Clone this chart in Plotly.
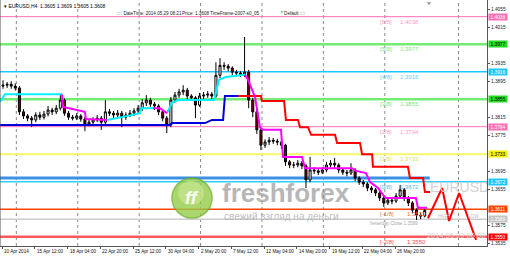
import plotly.graph_objects as go

# ---------------- data ----------------
symbol = "EURUSD,H4"
header_quote = "1.3605 1.3609 1.3605 1.3608"
header_datetime = "2014.05.29 08:21"
header_price = "1.3608"

# candles (each candle = two H4 bars), bar 0 = 10 Apr 2014 20:00
closes = [1.3886, 1.3888, 1.3884, 1.3880, 1.3827, 1.3818, 1.3813, 1.3809, 1.3820, 1.3815,
          1.3822, 1.3831, 1.3827, 1.3835, 1.3853, 1.3824, 1.3815, 1.3813, 1.3818, 1.3811,
          1.3800, 1.3804, 1.3809, 1.3813, 1.3804, 1.3827, 1.3824, 1.3820, 1.3824, 1.3815,
          1.3820, 1.3824, 1.3829, 1.3835, 1.3847, 1.3853, 1.3844, 1.3840, 1.3827, 1.3813,
          1.3798, 1.3853, 1.3864, 1.3871, 1.3875, 1.3862, 1.3858, 1.3842, 1.3862, 1.3864,
          1.3866, 1.3862, 1.3908, 1.3930, 1.3928, 1.3924, 1.3915, 1.3913, 1.3910, 1.3915,
          1.3853, 1.3827, 1.3787, 1.3753, 1.3760, 1.3764, 1.3762, 1.3760, 1.3753, 1.3716,
          1.3709, 1.3709, 1.3713, 1.3707, 1.3676, 1.3698, 1.3696, 1.3693, 1.3698, 1.3709,
          1.3713, 1.3709, 1.3698, 1.3693, 1.3691, 1.3698, 1.3680, 1.3671, 1.3667, 1.3658,
          1.3654, 1.3647, 1.3636, 1.3625, 1.3631, 1.3629, 1.3640, 1.3654, 1.3636, 1.3625,
          1.3609, 1.3598, 1.3596, 1.3608]
highs = [1.3897, 1.3893, 1.3895, 1.3890, 1.3884, 1.3833, 1.3822, 1.3818, 1.3826, 1.3827,
         1.3829, 1.3840, 1.3836, 1.3842, 1.3864, 1.3857, 1.3829, 1.3820, 1.3824, 1.3822,
         1.3815, 1.3811, 1.3815, 1.3820, 1.3818, 1.3853, 1.3833, 1.3829, 1.3831, 1.3829,
         1.3826, 1.3831, 1.3835, 1.3842, 1.3855, 1.3864, 1.3858, 1.3849, 1.3844, 1.3831,
         1.3818, 1.3860, 1.3871, 1.3878, 1.3886, 1.3880, 1.3866, 1.3862, 1.3869, 1.3871,
         1.3873, 1.3871, 1.3937, 1.3946, 1.3937, 1.3933, 1.3928, 1.3920, 1.3917, 1.3993,
         1.3920, 1.3858, 1.3831, 1.3791, 1.3766, 1.3771, 1.3769, 1.3767, 1.3764, 1.3756,
         1.3720, 1.3716, 1.3720, 1.3718, 1.3711, 1.3727, 1.3704, 1.3700, 1.3704, 1.3716,
         1.3720, 1.3725, 1.3713, 1.3702, 1.3698, 1.3713, 1.3702, 1.3684, 1.3676, 1.3671,
         1.3662, 1.3658, 1.3651, 1.3640, 1.3638, 1.3636, 1.3647, 1.3665, 1.3658, 1.3640,
         1.3629, 1.3613, 1.3604, 1.3611]
lows = [1.3878, 1.3880, 1.3878, 1.3874, 1.3820, 1.3811, 1.3806, 1.3793, 1.3804, 1.3809,
        1.3810, 1.3817, 1.3820, 1.3822, 1.3830, 1.3818, 1.3809, 1.3808, 1.3809, 1.3805,
        1.3784, 1.3795, 1.3800, 1.3804, 1.3787, 1.3800, 1.3818, 1.3813, 1.3815, 1.3793,
        1.3809, 1.3815, 1.3818, 1.3822, 1.3829, 1.3840, 1.3838, 1.3831, 1.3820, 1.3806,
        1.3780, 1.3793, 1.3847, 1.3858, 1.3864, 1.3855, 1.3851, 1.3813, 1.3838, 1.3855,
        1.3858, 1.3853, 1.3858, 1.3902, 1.3920, 1.3917, 1.3908, 1.3906, 1.3904, 1.3904,
        1.3835, 1.3815, 1.3778, 1.3742, 1.3747, 1.3753, 1.3756, 1.3753, 1.3745, 1.3707,
        1.3702, 1.3702, 1.3704, 1.3700, 1.3658, 1.3671, 1.3689, 1.3687, 1.3689, 1.3693,
        1.3704, 1.3702, 1.3691, 1.3687, 1.3684, 1.3687, 1.3673, 1.3665, 1.3660, 1.3651,
        1.3647, 1.3640, 1.3629, 1.3616, 1.3620, 1.3622, 1.3625, 1.3636, 1.3629, 1.3618,
        1.3602, 1.3587, 1.3589, 1.3593]
first_open = 1.3884
candle_bar = [2 * k + 0.5 for k in range(len(closes))]
opens = [first_open] + closes[:-1]

tick_bars = [0, 16, 32, 48, 64, 80, 96, 112, 128, 144, 160, 176, 192]
tick_labels = ["10 Apr 2014", "15 Apr 12:00", "18 Apr 04:00", "22 Apr 20:00", "25 Apr 12:00",
               "30 Apr 04:00", "2 May 20:00", "7 May 12:00", "12 May 04:00", "14 May 20:00",
               "19 May 12:00", "22 May 04:00", "26 May 20:00"]
week_bars = [7, 37, 67, 97, 127, 157, 187, 223]

murrey_names = ["[6/8]", "[5/8]", "[4/8]", "[3/8]", "[2/8]", "[1/8]", "[0/8]", "[-1/8]", "[-2/8]"]
murrey_levels = [1.4038, 1.3977, 1.3916, 1.3855, 1.3794, 1.3733, 1.3672, 1.3611, 1.3550]

yesterday_close = 1.3589
pivot_level = 1.3680
pivot_end_bar = 209

# trailing indicator (up = cyan, down = magenta)
up_bar = [-1.0, 1.5, 29.3, None, 51.3, 56.2, 61.6, 67.4, 67.9, 73.8, None,
          80.6, 83.0, 86.0, 103.6, 106.0, 109.4, 118.7]
up_price = [1.3849, 1.3866, 1.3866, None, 1.3809, 1.3813, 1.3818, 1.3824, 1.3835, 1.3835, None,
            1.3824, 1.3847, 1.3853, 1.3853, 1.3898, 1.3904, 1.3909]
dn_bar = [29.3, 29.8, 36.6, 40.5, 41.0, 51.3, None, 73.8, 77.2, 80.6, None,
          118.7, 120.2, 123.6, 126.0, 127.5, 136.3, 137.3, 146.6, 148.0, 171.0, 172.9,
          177.8, 179.8, 183.7, 186.6, 187.6, 202.2, 203.2, 207.6]
dn_price = [1.3866, 1.3838, 1.3831, 1.3827, 1.3811, 1.3809, None, 1.3835, 1.3835, 1.3824, None,
            1.3909, 1.3898, 1.3860, 1.3793, 1.3787, 1.3787, 1.3727, 1.3727, 1.3702, 1.3702, 1.3696,
            1.3691, 1.3671, 1.3658, 1.3640, 1.3636, 1.3636, 1.3614, 1.3614]
sup_bar = [-1.0, 82.1, 83.0, 99.2, 102.6, 108.0, 108.9, 115.3]
sup_price = [1.3798, 1.3798, 1.3802, 1.3802, 1.3809, 1.3809, 1.3862, 1.3862]
res_bar = [115.3, 126.5, 127.0, 137.8, 138.7, 144.6, 145.6, 149.5, 151.0, 162.7, 163.7,
           174.9, 175.9, 180.8, 181.2, 198.3, 199.3, 205.7, 206.6, 209.1]
res_price = [1.3862, 1.3862, 1.3851, 1.3851, 1.3809, 1.3809, 1.3793, 1.3793, 1.3776, 1.3776, 1.3758,
             1.3758, 1.3733, 1.3733, 1.3705, 1.3705, 1.3680, 1.3680, 1.3649, 1.3649]
proj_bar = [208.1, 215.0, 218.4, 223.3, 231.6]
proj_price = [1.3591, 1.3658, 1.3585, 1.3647, 1.3543]

axis_ticks = [1.4055, 1.4015, 1.3935, 1.3895, 1.3815, 1.3775, 1.3695, 1.3655, 1.3575, 1.3535]

# ---------------- styles ----------------
FONT = "Liberation Sans, Arial, sans-serif"
PLOT_W, PLOT_H = 487, 246
murrey_line_colors = ["#ff6eb4", "#74ec74", "#1ec8ff", "#74ec74", "#ff6eb4", "#f6f66a",
                      "#33ccff", "#ff4500", "#ff5a5a"]
murrey_line_widths = [1, 2.5, 1.5, 2.5, 1, 2, 1.5, 1.5, 2.5]
murrey_text_colors = ["#ff9ccc", "#7be87b", "#66ccff", "#7be87b", "#ff9ccc", "#e3e34a",
                      "#55bbee", "#ff7040", "#ff5050"]
murrey_box_colors = ["#ff6eb4", "#1fdc1f", "#1ec8ff", "#1fdc1f", "#ff6eb4", "#f0f000",
                     "#1ec8ff", "#ff4500", "#ff0000"]
murrey_box_text = ["white", "black", "white", "black", "white", "black", "white", "white", "white"]


def px(xp):
    return xp / PLOT_W


def py(yp):
    return 1 - yp / PLOT_H


fig = go.Figure()

fig.add_trace(go.Candlestick(
    x=candle_bar, open=opens, high=highs, low=lows, close=closes,
    increasing=dict(line=dict(color="black", width=1), fillcolor="white"),
    decreasing=dict(line=dict(color="black", width=1), fillcolor="#7a0000"),
    whiskerwidth=0, showlegend=False, hoverinfo="skip"))

fig.add_trace(go.Scatter(x=sup_bar, y=sup_price, mode="lines",
                         line=dict(color="#0000dd", width=2), showlegend=False))
fig.add_trace(go.Scatter(x=res_bar, y=res_price, mode="lines",
                         line=dict(color="#ff0000", width=2), showlegend=False))
fig.add_trace(go.Scatter(x=up_bar, y=up_price, mode="lines", connectgaps=False,
                         line=dict(color="#00f0ff", width=2), showlegend=False))
fig.add_trace(go.Scatter(x=dn_bar, y=dn_price, mode="lines", connectgaps=False,
                         line=dict(color="#ff00ff", width=2), showlegend=False))
fig.add_trace(go.Scatter(x=proj_bar, y=proj_price, mode="lines",
                         line=dict(color="#ff0000", width=2), showlegend=False, cliponaxis=True))

# clipped texts on the right part of the chart
fig.add_trace(go.Scatter(
    x=[209.1, 213.0, 227.6, 207.6], y=[1.3658, 1.3594, 1.3594, 1.3552], mode="text",
    text=["EURUSD", "HIGH", "LOW", "2014.05.29 00:00"], textposition="middle right",
    textfont=dict(family=FONT, size=[14, 4.8, 4.8, 7.5],
                  color=["#d2d2d2", "#c0c0c0", "#c0c0c0", "#d4d4d4"]),
    cliponaxis=True, showlegend=False, hoverinfo="skip"))

# top shift marker
fig.add_trace(go.Scatter(x=[208.6], y=[1.4068], mode="markers",
                         marker=dict(symbol="triangle-down", size=4, color="#9a9a9a"),
                         showlegend=False, hoverinfo="skip"))

shapes = []
for wb in week_bars:
    shapes.append(dict(type="line", xref="x", yref="paper", x0=wb, x1=wb, y0=0, y1=1,
                       line=dict(color="#8a8a8a", width=1, dash="dot"), layer="below"))
for lvl, c, w in zip(murrey_levels, murrey_line_colors, murrey_line_widths):
    shapes.append(dict(type="line", xref="paper", yref="y", x0=0, x1=1, y0=lvl, y1=lvl,
                       line=dict(color=c, width=w), layer="below"))
shapes.append(dict(type="line", xref="paper", yref="y", x0=0, x1=1, y0=yesterday_close,
                   y1=yesterday_close, line=dict(color="#cccccc", width=1.5), layer="below"))
shapes.append(dict(type="line", xref="x", yref="y", x0=-1, x1=pivot_end_bar, y0=pivot_level,
                   y1=pivot_level, line=dict(color="#3d8fe8", width=3), layer="below"))
# logo circle
shapes.append(dict(type="circle", xref="paper", yref="paper", x0=px(172), x1=px(212),
                   y0=py(218), y1=py(178), fillcolor="#96cc4a", line=dict(color="#6fae2a", width=1.5),
                   opacity=0.8, layer="above"))
shapes.append(dict(type="circle", xref="paper", yref="paper", x0=px(178), x1=px(204),
                   y0=py(205), y1=py(181), fillcolor="#c6e68e", line=dict(width=0),
                   opacity=0.7, layer="above"))
# frame left
shapes.append(dict(type="line", xref="paper", yref="paper", x0=0, x1=0, y0=0, y1=1,
                   line=dict(color="#555555", width=1)))

ann = []
ann.append(dict(xref="paper", yref="paper", x=px(2), y=py(6), xanchor="left", yanchor="middle",
                text="\u25be " + symbol + "\u00a0\u00a0" + header_quote, showarrow=False,
                font=dict(family=FONT, size=5, color="#000000")))
for txt, xp in [(":::: DateTime: " + header_datetime, 115), ("Price: " + header_price, 180),
                ("TimeFrame-2007-s0_05", 208), ("* Default ::::", 279)]:
    ann.append(dict(xref="paper", yref="paper", x=px(xp), y=py(13), xanchor="left",
                    yanchor="middle", text=txt, showarrow=False,
                    font=dict(family=FONT, size=4.6, color="#222222")))

for name, lvl, tc in zip(murrey_names, murrey_levels, murrey_text_colors):
    ann.append(dict(xref="x", yref="y", x=(378 - 2) / 2.047, y=lvl, yshift=-5, xanchor="left",
                    yanchor="middle", text=name, showarrow=False,
                    font=dict(family=FONT, size=6, color=tc)))
    xv = 398 if not name.startswith("[-") else 405
    ann.append(dict(xref="x", yref="y", x=(xv - 2) / 2.047, y=lvl, yshift=-5, xanchor="left",
                    yanchor="middle", text=f"{lvl:.4f}", showarrow=False,
                    font=dict(family=FONT, size=6, color=tc)))

for lvl, bc, tc in zip(murrey_levels, murrey_box_colors, murrey_box_text):
    ann.append(dict(xref="paper", yref="y", x=1, xshift=1, y=lvl, xanchor="left",
                    yanchor="middle", text=f"{lvl:.4f}", showarrow=False, bgcolor=bc,
                    width=18, height=6, borderpad=0,
                    font=dict(family=FONT, size=4.8, color=tc)))
ann.append(dict(xref="paper", yref="y", x=1, xshift=1, y=yesterday_close, xanchor="left",
                yanchor="middle", text=f"{yesterday_close:.4f}", showarrow=False,
                bgcolor="#c4c4c4", width=18, height=6, borderpad=0,
                font=dict(family=FONT, size=4.8, color="white")))
ann.append(dict(xref="x", yref="y", x=(367 - 2) / 2.047, y=yesterday_close, yshift=-4,
                xanchor="left", yanchor="middle",
                text="Yesterday Close " + f"{yesterday_close:.4f}", showarrow=False,
                font=dict(family=FONT, size=4.6, color="#a8a8a8")))

for tb, tl in zip(tick_bars, tick_labels):
    ann.append(dict(xref="x", yref="paper", x=tb, y=0, yshift=-1, xanchor="left", yanchor="top",
                    text=tl, showarrow=False, font=dict(family=FONT, size=4.6, color="#111111")))

# watermark
ann.append(dict(xref="paper", yref="paper", x=px(192), y=py(198), xanchor="center",
                yanchor="middle", text="<b><i>ff</i></b>", showarrow=False,
                font=dict(family=FONT, size=18, color="rgba(255,255,255,0.9)")))
ann.append(dict(xref="paper", yref="paper", x=px(220), y=py(193), xanchor="left",
                yanchor="middle", text="<b>freshforex</b>", showarrow=False,
                font=dict(family=FONT, size=26, color="rgba(140,140,140,0.65)")))
ann.append(dict(xref="paper", yref="paper", x=px(222), y=py(216), xanchor="left",
                yanchor="middle", text="свежий взгляд на деньги", showarrow=False,
                font=dict(family=FONT, size=10, color="rgba(170,170,170,0.75)")))

fig.update_layout(
    width=510, height=256, margin=dict(l=0, r=23, t=0, b=10, pad=0),
    paper_bgcolor="white", plot_bgcolor="white", showlegend=False,
    shapes=shapes, annotations=ann,
    xaxis=dict(range=[-2 / 2.047, 485 / 2.047], rangeslider=dict(visible=False),
               showgrid=False, zeroline=False, showline=True, linecolor="#555555", linewidth=1,
               tickvals=tick_bars, ticks="outside", ticklen=2, tickcolor="#555555",
               showticklabels=False, fixedrange=True),
    yaxis=dict(range=[1.35294, 1.4075], side="right", showgrid=False, zeroline=False,
               showline=True, linecolor="#555555", linewidth=1, tickvals=axis_ticks,
               ticktext=[f"{v:.4f}" for v in axis_ticks], ticks="outside", ticklen=2,
               tickcolor="#555555", tickfont=dict(family=FONT, size=4.8, color="#222222"),
               fixedrange=True),
)

fig.write_html("out.html")
